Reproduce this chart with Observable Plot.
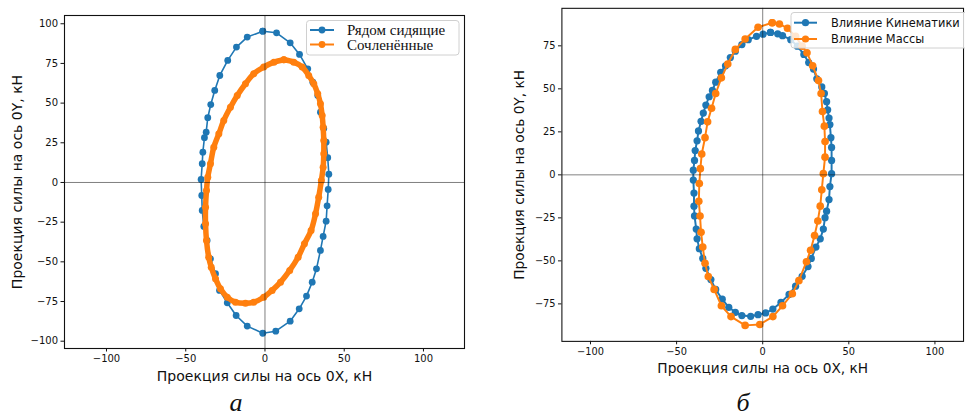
<!DOCTYPE html>
<html>
<head>
<meta charset="utf-8">
<script src="https://cdn.jsdelivr.net/npm/d3@7"></script>
<script src="https://cdn.jsdelivr.net/npm/@observablehq/plot@0.6"></script>
<style>
  html, body { margin: 0; padding: 0; background: #fff; overflow: hidden; }
  #wrap { position: relative; width: 965px; height: 419px; overflow: hidden; background: #fff; }
  #left { position: absolute; left: 0; top: 0; }
  #right { position: absolute; left: 485px; top: 0; }
  #overlay { position: absolute; left: 0; top: 0; pointer-events: none; }
</style>
</head>
<body>
<div id="wrap">
  <div id="left"></div>
  <div id="right"></div>
  <svg id="overlay" width="965" height="419"></svg>
</div>
<script>
// ---------- data ----------
const seriesLeft = ["Рядом сидящие", "Сочленённые"];
const seriesRight = ["Влияние Кинематики", "Влияние Массы"];
const captions = ["а", "б"];
const xLabel = "Проекция силы на ось 0X, кН";
const yLabel = "Проекция силы на ось 0Y, кН";
const xTicks = [-100, -50, 0, 50, 100];
const yTicksLeft = [-100, -75, -50, -25, 0, 25, 50, 75, 100];
const yTicksRight = [-75, -50, -25, 0, 25, 50, 75];
const zeroLines = [0];

// Рядом сидящие [Fx, Fy]
const sideBySide = [[-1.4,95.3],[7.3,94.3],[15.9,88],[21.8,80.7],[27,71.6],[30.2,63.2],[33.3,54.8],[35,44.3],[37.1,34],[38.6,25.4],[39.6,15.6],[40.3,5.2],[39.9,-4.4],[39.2,-14.7],[38.6,-24.4],[36.7,-34],[35,-42.8],[32.5,-54.4],[29.8,-62.8],[26.2,-71.6],[21.6,-79.6],[15.9,-87.4],[6.8,-93.7],[-1.4,-95],[-11.2,-90.5],[-18.2,-83.8],[-23.8,-75.8],[-28.7,-68],[-31.2,-57.5],[-34.4,-48.1],[-36.5,-36.5],[-38.6,-27.7],[-39.6,-17.6],[-39.9,-8.2],[-40.3,1.9],[-39.6,11.8],[-39.2,19.1],[-38.2,28.2],[-37.1,31.7],[-36.1,40.8],[-34.2,49.1],[-31.7,58],[-28.5,67.4],[-23.5,76.9],[-18,85.3],[-11.2,91.6],[-1.4,95.3]];

// Сочленённые [Fx, Fy]
const articulated = [[11.9,77.3],[18.2,75.8],[23.5,72.7],[27.6,67.4],[30.8,62.2],[33.3,55.9],[35,49.6],[36.1,42.2],[36.7,34.8],[37.1,26.5],[37.1,18.1],[36.7,9.6],[35.6,1.3],[33.9,-9.3],[31.9,-19.7],[29.1,-30.2],[24.9,-38.6],[20.9,-47.1],[15.6,-55.4],[9.8,-62.8],[4.5,-68],[-0.8,-72.3],[-7.1,-75.4],[-12.3,-76.1],[-18.6,-75.4],[-23.8,-72.3],[-28.1,-67],[-31.2,-60.7],[-33.9,-53.4],[-35.5,-47.1],[-36.9,-36.5],[-37.5,-26],[-37.5,-15.6],[-36.9,-5],[-36.1,3.3],[-34.4,11.8],[-32.3,22.2],[-29.1,30.7],[-26,39.1],[-21.8,47.4],[-17.5,54.8],[-12.3,62.2],[-7.1,68.5],[-0.8,72.7],[5.6,75.8],[11.9,77.3]];

// Влияние Кинематики [Fx, Fy]
const kinematics = [[4.5,82.8],[8.7,82],[11.5,80.9],[16.3,78.6],[20.1,74.8],[23.9,70],[26.7,65.3],[29.5,61.5],[31.4,55.8],[34.3,51.1],[35.8,47.3],[37.1,42.5],[37.7,37.8],[38.5,33],[39,29.2],[39.6,21.6],[40,15.9],[40,8.4],[40,0.7],[39,-6.8],[38.5,-14.4],[37.1,-21.1],[36.2,-24.9],[35.2,-31.5],[33.4,-37.2],[30.9,-42],[28.2,-48.6],[26.3,-53.3],[22.9,-59],[19.1,-64.7],[15.3,-69.5],[10.6,-74.2],[5.9,-78],[1.7,-80.3],[-2.7,-81.3],[-7,-82.2],[-12.1,-81.8],[-15.9,-79.9],[-19.7,-77],[-23.5,-72.3],[-27.3,-66.6],[-30.1,-60.9],[-33,-54.3],[-34.8,-48.6],[-36.8,-42.9],[-38.1,-37.2],[-38.6,-31.5],[-39.6,-23.9],[-39.9,-18.2],[-39.9,-10.6],[-40.3,-3],[-40.3,2.7],[-39.6,8.4],[-39.2,14.1],[-38.1,19.8],[-37.3,25.5],[-35.8,31.1],[-34.5,35.9],[-33,40.6],[-31.1,45.4],[-29.2,49.1],[-27.3,53.9],[-24.4,59.6],[-21.6,63.4],[-18.8,68.2],[-15.9,71.9],[-12.1,75.7],[-8.4,78.6],[-3.6,80.5],[0.2,81.8],[4.5,82.8]];

// Влияние Массы [Fx, Fy]
const mass = [[5.5,88.4],[9.7,87.7],[14.4,85.2],[19.1,80.5],[22.9,74.8],[25.7,71],[29,63.4],[32.4,54.8],[33.9,47.3],[34.7,36.8],[35.8,28.3],[36.2,19.4],[36.2,10.3],[35.2,0.7],[34.3,-8.7],[33.4,-18.2],[32,-26.8],[30.1,-35.3],[27.8,-43.8],[25.4,-50.5],[21,-61.5],[17.2,-69.1],[11.5,-76.1],[5.9,-82.4],[-1.7,-87],[-10.2,-87.5],[-18.4,-82.4],[-24,-76.1],[-28.2,-66.6],[-31.6,-59.1],[-33.5,-51.4],[-34.8,-42],[-35.8,-33.4],[-36.4,-23.9],[-37.1,-15.4],[-36.8,-5],[-36.2,3.6],[-35.4,12.1],[-33.5,21.6],[-32,30.8],[-29.7,38.7],[-27.3,47.3],[-24,56.4],[-20.3,64.4],[-15.9,72.9],[-10.2,79],[-2.7,85.8],[5.5,88.4]];

const colors = ["#1f77b4", "#ff7f0e"];

// ---------- plots ----------
function panel({width, marginLeft, marginRight, marginTop, marginBottom, xDomain, yDomain, yTicks, ylabelDx, marks}) {
  return Plot.plot({
    width, height: 419,
    marginLeft, marginRight, marginTop, marginBottom,
    style: {fontFamily: "DejaVu Sans", fontSize: "10px", color: "#111", background: "transparent", overflow: "visible"},
    x: {domain: xDomain, ticks: xTicks, tickSize: 3.5, tickPadding: 3, label: null},
    y: {domain: yDomain, ticks: yTicks, tickSize: 3.5, tickPadding: 3, label: null},
    marks: [
      ...marks,
      Plot.ruleX(zeroLines, {stroke: "#000", strokeOpacity: 0.5, strokeWidth: 1}),
      Plot.ruleY(zeroLines, {stroke: "#000", strokeOpacity: 0.5, strokeWidth: 1}),
      Plot.frame({stroke: "#111", strokeWidth: 1.1}),
      Plot.text([xLabel], {frameAnchor: "bottom", dy: 28, textAnchor: "middle", lineAnchor: "middle", fontSize: 14, fill: "#111"}),
      Plot.text([yLabel], {frameAnchor: "left", dx: ylabelDx, rotate: -90, textAnchor: "middle", lineAnchor: "middle", fontSize: 14, fill: "#111"})
    ]
  });
}

const left = panel({
  width: 480, marginLeft: 64, marginRight: 16, marginTop: 15, marginBottom: 71,
  xDomain: [-126.5, 125.9], yDomain: [-104.6, 105.2], yTicks: yTicksLeft, ylabelDx: -47,
  marks: [
    Plot.line(sideBySide, {x: d => d[0], y: d => d[1], stroke: colors[0], strokeWidth: 1.6}),
    Plot.dot(sideBySide, {x: d => d[0], y: d => d[1], r: 3.4, fill: colors[0], stroke: "none"}),
    Plot.line(articulated, {x: d => d[0], y: d => d[1], stroke: colors[1], strokeWidth: 5.5, curve: "catmull-rom", strokeLinejoin: "round"}),
    Plot.dot(articulated, {x: d => d[0], y: d => d[1], r: 3.5, fill: colors[1], stroke: "none"})
  ]
});
document.getElementById("left").appendChild(left);

const right = panel({
  width: 490, marginLeft: 78, marginRight: 2, marginTop: 8, marginBottom: 71,
  xDomain: [-116.6, 116.6], yDomain: [-96.8, 96.8], yTicks: yTicksRight, ylabelDx: -43,
  marks: [
    Plot.line(kinematics, {x: d => d[0], y: d => d[1], stroke: colors[0], strokeWidth: 2}),
    Plot.dot(kinematics, {x: d => d[0], y: d => d[1], r: 3.7, fill: colors[0], stroke: "none"}),
    Plot.line(mass, {x: d => d[0], y: d => d[1], stroke: colors[1], strokeWidth: 2}),
    Plot.dot(mass, {x: d => d[0], y: d => d[1], r: 3.9, fill: colors[1], stroke: "none"})
  ]
});
document.getElementById("right").appendChild(right);

// ---------- legends & captions (overlay) ----------
const ov = d3.select("#overlay");
function legend({x, y, w, h, rows, lineX0, lineX1, textX, font, fontSize, r}) {
  ov.append("rect").attr("x", x).attr("y", y).attr("width", w).attr("height", h)
    .attr("rx", 3).attr("fill", "rgba(255,255,255,0.8)").attr("stroke", "#d0d0d0").attr("stroke-width", 1);
  rows.forEach((row) => {
    ov.append("line").attr("x1", lineX0).attr("x2", lineX1).attr("y1", row.y).attr("y2", row.y)
      .attr("stroke", row.color).attr("stroke-width", 2);
    ov.append("circle").attr("cx", (lineX0 + lineX1) / 2).attr("cy", row.y).attr("r", r).attr("fill", row.color);
    ov.append("text").attr("x", textX).attr("y", row.y).attr("dy", "0.35em")
      .attr("font-family", font).attr("font-size", fontSize).attr("fill", "#111").text(row.label);
  });
}
legend({x: 306.5, y: 20.5, w: 152.5, h: 34.5, lineX0: 310, lineX1: 334, textX: 347, font: "Liberation Serif", fontSize: 15, r: 3.4,
  rows: [{y: 30, color: colors[0], label: seriesLeft[0]}, {y: 44.5, color: colors[1], label: seriesLeft[1]}]});
legend({x: 791, y: 12.5, w: 200, h: 35.5, lineX0: 794, lineX1: 817, textX: 831, font: "DejaVu Sans", fontSize: 11.4, r: 3.6,
  rows: [{y: 22.7, color: colors[0], label: seriesRight[0]}, {y: 39, color: colors[1], label: seriesRight[1]}]});

ov.append("text").attr("x", 236).attr("y", 411).attr("text-anchor", "middle")
  .attr("font-family", "Liberation Serif").attr("font-style", "italic").attr("font-size", 26).attr("fill", "#111").text(captions[0]);
ov.append("text").attr("x", 743).attr("y", 411).attr("text-anchor", "middle")
  .attr("font-family", "Liberation Serif").attr("font-style", "italic").attr("font-size", 26).attr("fill", "#111").text(captions[1]);
</script>
</body>
</html>
